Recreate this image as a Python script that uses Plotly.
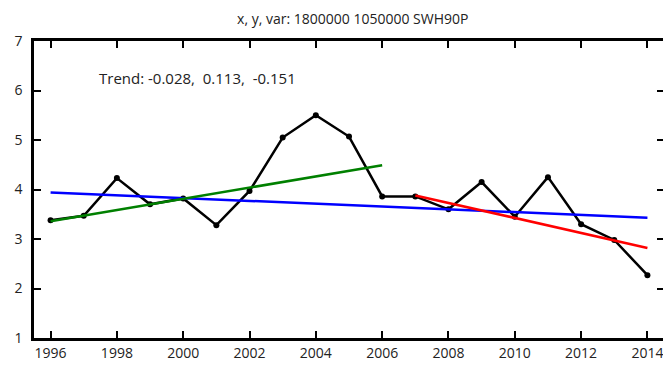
import plotly.graph_objects as go

# annual SWH90P values
years = list(range(1996, 2015))
swh90p = [3.38, 3.47, 4.23, 3.70, 3.82, 3.28, 3.97, 5.05, 5.50, 5.07,
          3.86, 3.86, 3.60, 4.15, 3.45, 4.25, 3.30, 2.98, 2.27]

# trend line end points (full period, first half, second half)
trend_all_years = [1996, 2014]
trend_all_vals = [3.94, 3.43]
trend_early_years = [1996, 2006]
trend_early_vals = [3.36, 4.49]
trend_late_years = [2007, 2014]
trend_late_vals = [3.88, 2.82]

trend_text = "Trend: -0.028,  0.113,  -0.151"
title_text = "x, y, var: 1800000 1050000 SWH90P"

x_ticks = list(range(1996, 2015, 2))
y_ticks = [1, 2, 3, 4, 5, 6, 7]

fig = go.Figure()

fig.add_trace(go.Scatter(
    x=years, y=swh90p, mode="lines+markers",
    line=dict(color="black", width=2.5),
    marker=dict(color="black", size=6),
    showlegend=False,
))
fig.add_trace(go.Scatter(
    x=trend_all_years, y=trend_all_vals, mode="lines",
    line=dict(color="#0000ff", width=2.5), showlegend=False,
))
fig.add_trace(go.Scatter(
    x=trend_early_years, y=trend_early_vals, mode="lines",
    line=dict(color="#008000", width=2.5), showlegend=False,
))
fig.add_trace(go.Scatter(
    x=trend_late_years, y=trend_late_vals, mode="lines",
    line=dict(color="#ff0000", width=2.5), showlegend=False,
))

axis_common = dict(
    showgrid=False, zeroline=False,
    showline=True, linecolor="black", linewidth=2.5, mirror="ticks",
    ticks="inside", ticklen=7, tickwidth=2, tickcolor="black",
    tickfont=dict(family="Open Sans", size=14, color="#222"),
)

fig.update_xaxes(range=[1995.5, 2014.5], tickvals=x_ticks, **axis_common)
fig.update_yaxes(range=[1, 7], tickvals=y_ticks, ticklabelstandoff=6, **axis_common)

fig.add_annotation(
    x=0.1, y=0.875, xref="paper", yref="paper", xanchor="left", yanchor="middle",
    text=trend_text, showarrow=False,
    font=dict(family="Open Sans", size=15, color="#222"),
)

# page body has an 8px margin, so the figure is a little smaller than the window
fig.update_layout(
    width=663, height=358,
    margin=dict(l=26, r=4, t=33, b=28),
    paper_bgcolor="white", plot_bgcolor="white",
    title=dict(text=title_text, x=0.52, xanchor="center", y=0.97, yanchor="middle",
               font=dict(family="Open Sans", size=14, color="#222")),
)

fig.write_html("out.html")
